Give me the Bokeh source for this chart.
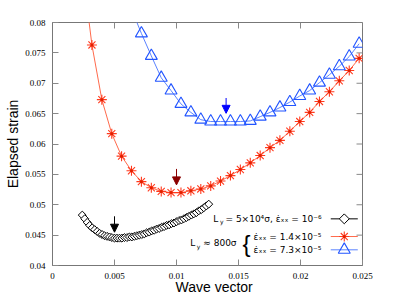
import math
from bokeh.plotting import figure
from bokeh.models import Range1d, FixedTicker, Label, Arrow, NormalHead, Title
from bokeh.embed import file_html
from bokeh.resources import INLINE

# ---------------- data ----------------
x_ticks = [0, 0.005, 0.01, 0.015, 0.02, 0.025]
x_tick_labels = ["0", "0.005", "0.01", "0.015", "0.02", "0.025"]
y_ticks = [0.04, 0.045, 0.05, 0.055, 0.06, 0.065, 0.07, 0.075, 0.08]
y_tick_labels = ["0.04", "0.045", "0.05", "0.055", "0.06", "0.065", "0.07", "0.075", "0.08"]
x_label = "Wave vector"
y_label = "Elapsed strain"

# L_y = 5x10^4 sigma, rate 1e-6
black_k = [0.0024, 0.0026, 0.0028, 0.0030, 0.0032, 0.0034, 0.0036, 0.0038, 0.0040,
           0.0042, 0.0044, 0.0046, 0.0048, 0.0050, 0.0052, 0.0054, 0.0056, 0.0058,
           0.0060, 0.0062, 0.0064, 0.0066, 0.0068, 0.0070, 0.0072, 0.0074, 0.0076,
           0.0078, 0.0080, 0.0082, 0.0084, 0.0086, 0.0088, 0.0090, 0.0092, 0.0094,
           0.0096, 0.0098, 0.0100, 0.0102, 0.0104, 0.0106, 0.0108, 0.0110, 0.0112,
           0.0114, 0.0116, 0.0118, 0.0120, 0.0122, 0.0124, 0.0126]
black_strain = [0.0483, 0.0477, 0.0471, 0.0466, 0.0462, 0.0459, 0.0456, 0.0453, 0.0451,
                0.0449, 0.0448, 0.0447, 0.0446, 0.0445, 0.0445, 0.0445, 0.0445, 0.0446,
                0.0446, 0.0447, 0.0447, 0.0448, 0.0449, 0.0450, 0.0451, 0.0452, 0.0454,
                0.0455, 0.0457, 0.0458, 0.0460, 0.0461, 0.0463, 0.0464, 0.0466, 0.0467,
                0.0469, 0.0470, 0.0472, 0.0474, 0.0475, 0.0477, 0.0479, 0.0481, 0.0483,
                0.0485, 0.0487, 0.0490, 0.0492, 0.0495, 0.0498, 0.0501]

# L_y ~ 800 sigma, rate 1.4e-5
red_k = [0.00238, 0.00318, 0.00398, 0.00478, 0.00557, 0.00637, 0.00717, 0.00797, 0.00877,
         0.00956, 0.01036, 0.01116, 0.01196, 0.01276, 0.01355, 0.01435, 0.01515,
         0.01595, 0.01675, 0.01754, 0.01834, 0.01914, 0.01994, 0.02074, 0.02153,
         0.02233, 0.02313, 0.02393, 0.02473]
red_strain = [0.0895, 0.0763, 0.0673, 0.0617, 0.0580, 0.0556, 0.0538, 0.0528, 0.0522,
              0.0520, 0.0520, 0.0523, 0.0526, 0.0531, 0.0539, 0.0548, 0.0558,
              0.0569, 0.0581, 0.0594, 0.0606, 0.0621, 0.0637, 0.0652, 0.0670,
              0.0686, 0.0704, 0.0721, 0.0741]

# L_y ~ 800 sigma, rate 7.3e-5
blue_k = [0.00637, 0.00717, 0.00797, 0.00877, 0.00956, 0.01036, 0.01116, 0.01196,
          0.01276, 0.01355, 0.01435, 0.01515, 0.01595, 0.01675, 0.01754, 0.01834,
          0.01914, 0.01994, 0.02074, 0.02153, 0.02233, 0.02313, 0.02393, 0.02473]
blue_strain = [0.0822, 0.0782, 0.0745, 0.0709, 0.0688, 0.0666, 0.0652, 0.0640,
               0.0637, 0.0637, 0.0637, 0.0637, 0.0638, 0.0645, 0.0652, 0.0660,
               0.0669, 0.0679, 0.0688, 0.0701, 0.0714, 0.0728, 0.0744, 0.0765]

# minima arrows
arrow_k = [0.005, 0.010, 0.014]
arrow_top = [0.0481, 0.0559, 0.06757]
arrow_tip = [0.04548, 0.05327, 0.06505]
arrow_colors = ["#000000", "#8b0000", "#0000ff"]

BLACK = "#000000"
RED = "#ff3b1f"
RED_LINE = "#ff6a4c"
BLUE = "#2255ff"
BLUE_LINE = "#5a82ff"
FRAME = "#777777"

X0, X1 = x_ticks[0], x_ticks[-1]
Y0, Y1 = y_ticks[0], y_ticks[-1]

# ---------------- figure ----------------
p = figure(width=399, height=299,
           x_range=Range1d(X0, X1), y_range=Range1d(Y0, Y1),
           output_backend="svg", toolbar_location=None,
           min_border_left=52, min_border_right=37, min_border_top=22,
           min_border_bottom=34)
p.xgrid.visible = False
p.ygrid.visible = False
p.outline_line_color = FRAME
p.background_fill_color = "white"
p.border_fill_color = "white"

p.xaxis.ticker = FixedTicker(ticks=x_ticks)
p.xaxis.major_label_overrides = {t: s for t, s in zip(x_ticks, x_tick_labels)}
p.yaxis.ticker = FixedTicker(ticks=y_ticks)
p.yaxis.major_label_overrides = {t: s for t, s in zip(y_ticks, y_tick_labels)}

for ax in list(p.xaxis) + list(p.yaxis):
    ax.major_tick_in = 6
    ax.major_tick_out = 0
    ax.minor_tick_line_color = None
    ax.axis_line_color = FRAME
    ax.major_tick_line_color = "#888888"
    ax.major_label_text_font = "Liberation Serif"
    ax.major_label_text_font_size = "9px"
    ax.major_label_text_color = "#000000"
    ax.axis_label_text_font = "Liberation Sans"
    ax.axis_label_text_font_size = "14px"
    ax.axis_label_text_font_style = "normal"
    ax.axis_label_text_color = "#000000"
p.xaxis.major_label_standoff = 7
p.yaxis.major_label_standoff = 7
p.yaxis.axis_label = y_label
p.yaxis.axis_label_standoff = 1

# x-axis title placed in the bottom panel, pulled up into the spare border space
p.add_layout(Title(text=x_label, align="left", offset=123, vertical_align="top",
                   standoff=-6, text_font="Liberation Sans", text_font_size="14px",
                   text_font_style="normal", text_color="#000000"), "below")

# mirrored inward ticks on top and right edges of the frame
p.ray(x=x_ticks, y=[Y1] * len(x_ticks), length=6, length_units="screen",
      angle=-math.pi / 2, line_color="#888888", line_width=1)
p.ray(x=[X1] * len(y_ticks), y=y_ticks, length=6, length_units="screen",
      angle=math.pi, line_color="#888888", line_width=1)

# ---------------- series ----------------
p.line(black_k, black_strain, line_color=BLACK, line_width=1)
p.scatter(black_k, black_strain, marker="square", angle=math.pi / 4, size=5.6,
          line_color=BLACK, fill_color="white", line_width=1)

p.line(red_k, red_strain, line_color=RED_LINE, line_width=1)
p.scatter(red_k, red_strain, marker="asterisk", size=10, line_color=RED, line_width=1.1)
p.scatter(red_k, red_strain, marker="circle", size=3, line_color=None, fill_color="#e02000")

p.line(blue_k, blue_strain, line_color=BLUE_LINE, line_width=1)
p.scatter(blue_k, blue_strain, marker="triangle", size=12, line_color=BLUE,
          fill_color=None, line_width=1.1)

# ---------------- arrows at minima ----------------
for xk, y0, y1, c in zip(arrow_k, arrow_top, arrow_tip, arrow_colors):
    p.add_layout(Arrow(x_start=xk, y_start=y0, x_end=xk, y_end=y1,
                       line_color=c, line_width=1,
                       end=NormalHead(size=8, fill_color=c, line_color=c, line_width=1)))

# ---------------- legend (labels left, samples right) ----------------
leg_x0, leg_x1, leg_xm = 0.02244, 0.02462, 0.02353
leg_rows = [0.04768, 0.04477, 0.04258]
FONT = "DejaVu Sans"

p.line([leg_x0, leg_x1], [leg_rows[0]] * 2, line_color=BLACK, line_width=1)
p.scatter([leg_xm], [leg_rows[0]], marker="square", angle=math.pi / 4, size=7,
          line_color=BLACK, fill_color="white", line_width=1)
p.line([leg_x0, leg_x1], [leg_rows[1]] * 2, line_color=RED_LINE, line_width=1)
p.scatter([leg_xm], [leg_rows[1]], marker="asterisk", size=10, line_color=RED, line_width=1.1)
p.scatter([leg_xm], [leg_rows[1]], marker="circle", size=3, line_color=None, fill_color="#e02000")
p.line([leg_x0, leg_x1], [leg_rows[2]] * 2, line_color=BLUE_LINE, line_width=1)
p.scatter([leg_xm], [leg_rows[2]], marker="triangle", size=12, line_color=BLUE,
          fill_color=None, line_width=1.1)

def lab(x, y, text, size="9px", align="left", dy=0, font=FONT):
    p.add_layout(Label(x=x, y=y, text=text, text_font=font, text_font_size=size,
                       text_align=align, text_baseline="middle", y_offset=dy,
                       text_color="#000000"))

# entry 1
lab(0.01297, leg_rows[0], "L")
lab(0.01350, leg_rows[0], "y", size="6px", dy=-3)
lab(0.01395, leg_rows[0], "= 5\u00d710\u2074\u03c3, \u03b5\u0307\u2093\u2093 = 10\u207b\u2076")
# entries 2, 3
lab(0.02168, leg_rows[1], "\u03b5\u0307\u2093\u2093 = 1.4\u00d710\u207b\u2075", align="right")
lab(0.02168, leg_rows[2], "\u03b5\u0307\u2093\u2093 = 7.3\u00d710\u207b\u2075", align="right")
# group label with brace
grp_y = (leg_rows[1] + leg_rows[2]) / 2
lab(0.01111, grp_y, "L")
lab(0.01164, grp_y, "y", size="6px", dy=-3)
lab(0.01216, grp_y, "\u2248 800\u03c3")
lab(0.01565, grp_y, "{", size="24px", align="center", font="Liberation Sans")

open("out.html", "w").write(file_html(p, INLINE))
